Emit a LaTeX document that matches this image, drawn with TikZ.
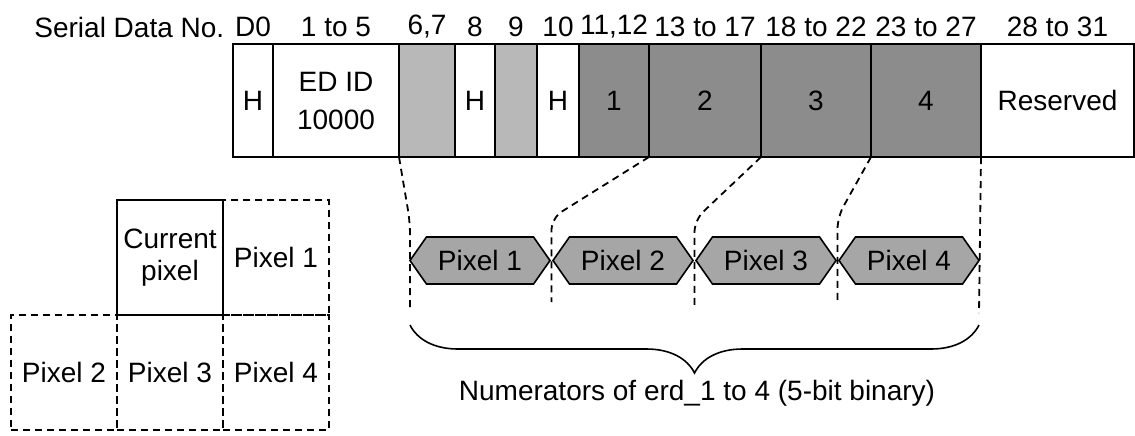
\documentclass[tikz,border=0pt]{standalone}
\usepackage{fontspec}
\setmainfont{Liberation Sans}
\usetikzlibrary{positioning,calc,shapes.symbols,decorations.pathreplacing}
\tikzset{
  cell/.style={draw,line width=0.8pt,inner sep=0pt,outer sep=0pt,minimum height=56.5pt,align=center},
  lite/.style={cell,fill=black!28},
  dark/.style={cell,fill=black!45},
  pix/.style={draw,dash pattern=on 3.5pt off 2.5pt,line width=0.8pt,inner sep=0pt,outer sep=0pt,minimum width=53pt,minimum height=57.5pt,align=center},
  cur/.style={pix,solid,line width=1.3pt},
  hex/.style={draw,signal,signal to=east and west,signal pointer angle=110,fill=black!35,line width=0.8pt,minimum width=70pt,minimum height=23.5pt,inner sep=0pt,outer sep=0pt},
  cut/.style={dash pattern=on 3.5pt off 2.5pt,line width=0.9pt,rounded corners=6pt},
}
\begin{document}
\begin{tikzpicture}[x=0.5pt,y=-0.5pt,node distance=0pt,font=\fontsize{14}{16}\selectfont]
\useasboundingbox (0,0) rectangle (1135,435);
% serial data frame
\node[cell,minimum width=20pt] (h0) at (253,100.5) {H};
\node[cell,minimum width=63pt,right=of h0] (edid) {ED ID\\[3pt]10000};
\node[lite,minimum width=28pt,right=of edid] (c67) {};
\node[cell,minimum width=20pt,right=of c67] (h8) {H};
\node[lite,minimum width=21pt,right=of h8] (c9) {};
\node[cell,minimum width=21pt,right=of c9] (h10) {H};
\node[dark,minimum width=35pt,right=of h10] (e1) {1};
\node[dark,minimum width=56pt,right=of e1] (e2) {2};
\node[dark,minimum width=55pt,right=of e2] (e3) {3};
\node[dark,minimum width=55pt,right=of e3] (e4) {4};
\node[cell,minimum width=76.5pt,right=of e4] (rsv) {Reserved};
% serial data numbers
\node[anchor=west,inner sep=0pt] (sdn) at (34,27) {Serial Data No.};
\node at (h0.north |- sdn) {D0};
\node at (edid.north |- sdn) {1 to 5};
\node at (c67.north |- sdn) {6,7};
\node at (h8.north |- sdn) {8};
\node at (c9.north |- sdn) {9};
\node at (h10.north |- sdn) {10};
\node at (e1.north |- sdn) {11,12};
\node at (e2.north |- sdn) {13 to 17};
\node at (e3.north |- sdn) {18 to 22};
\node at (e4.north |- sdn) {23 to 27};
\node at (rsv.north |- sdn) {28 to 31};
% neighbouring pixels
\node[cur] (cp) at (170,257.5) {Current\\pixel};
\node[pix,right=of cp] (p1) {Pixel 1};
\node[pix,below=of cp] (p3) {Pixel 3};
\node[pix,left=of p3] (p2) {Pixel 2};
\node[pix,right=of p3] (p4) {Pixel 4};
% erd fields
\node[hex] (x1) at (480,260.5) {Pixel 1};
\node[hex,right=1.5pt of x1] (x2) {Pixel 2};
\node[hex,right=1.5pt of x2] (x3) {Pixel 3};
\node[hex,right=1.5pt of x3] (x4) {Pixel 4};
\coordinate (k1) at ($(x1.east)!0.5!(x2.west)$);
\coordinate (k2) at ($(x2.east)!0.5!(x3.west)$);
\coordinate (k3) at ($(x3.east)!0.5!(x4.west)$);
\draw[cut] (c67.south west) -- (x1.west |- 0,222) -- (x1.west |- 0,310);
\draw[cut] (e1.south east) -- (k1 |- 0,218) -- (k1 |- 0,302);
\draw[cut] (e2.south east) -- (k2 |- 0,220) -- (k2 |- 0,307);
\draw[cut] (e3.south east) -- (k3 |- 0,217) -- (k3 |- 0,300);
\draw[cut] (e4.south east) -- (x4.east |- 0,313);
\draw[line width=0.8pt,decorate,decoration={brace,mirror,amplitude=24pt}] (x1.west |- 0,325) -- (x4.east |- 0,325);
\node (note) at (697,393) {Numerators of erd\_1 to 4 (5-bit binary)};
\end{tikzpicture}
\end{document}
